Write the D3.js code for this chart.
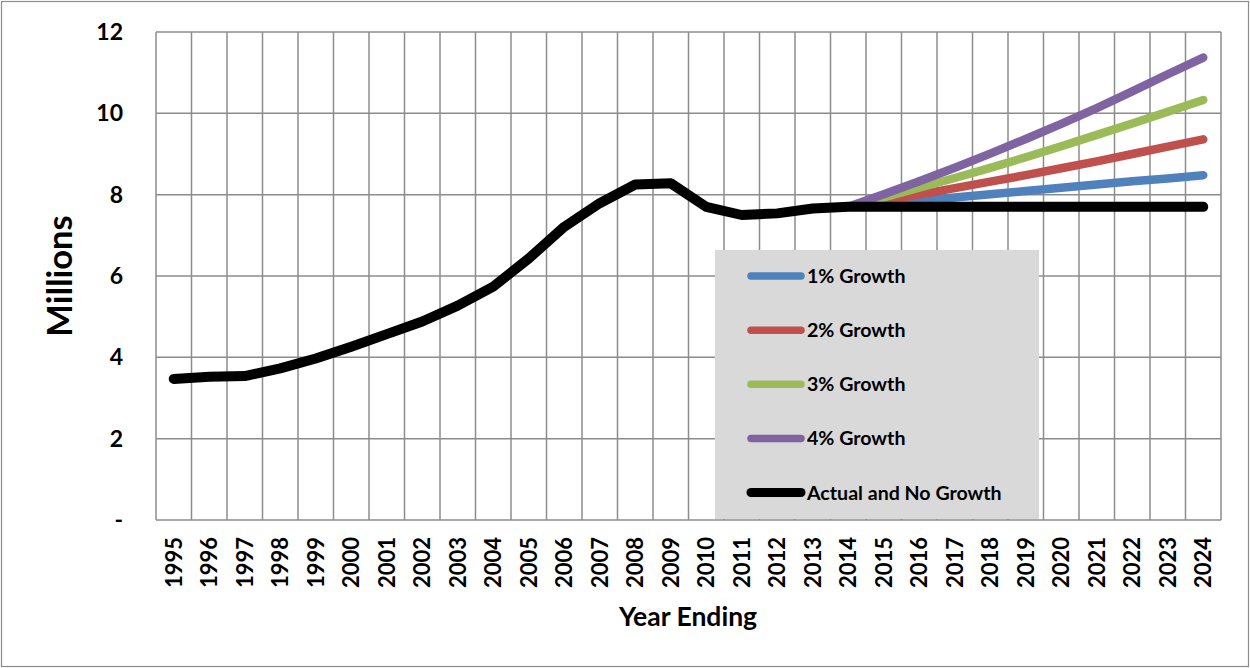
<!DOCTYPE html>
<html>
<head>
<meta charset="utf-8">
<script src="https://cdn.jsdelivr.net/npm/d3@7"></script>
<style>
  html, body { margin: 0; padding: 0; background: #fff; }
  svg { display: block; }
  text { font-family: Lato, "Open Sans", sans-serif; font-weight: 700; fill: #000; }
</style>
</head>
<body>
<svg id="chart" width="1250" height="668"></svg>
<script>
// Year ending categories
const years = ["1995","1996","1997","1998","1999","2000","2001","2002","2003","2004",
               "2005","2006","2007","2008","2009","2010","2011","2012","2013","2014",
               "2015","2016","2017","2018","2019","2020","2021","2022","2023","2024"];

// Actual figures to 2014, then held flat (millions)
const actualNoGrowth = [3.47, 3.52, 3.54, 3.73, 3.97, 4.26, 4.57, 4.88, 5.27, 5.74,
                        6.43, 7.21, 7.79, 8.25, 8.28, 7.70, 7.50, 7.54, 7.66, 7.70,
                        7.70, 7.70, 7.70, 7.70, 7.70, 7.70, 7.70, 7.70, 7.70, 7.70];

// Projection years and scenarios (millions)
const projYears = ["2014","2015","2016","2017","2018","2019","2020","2021","2022","2023","2024"];
const growth1 = [7.70, 7.77, 7.85, 7.93, 8.01, 8.09, 8.17, 8.25, 8.33, 8.40, 8.48];
const growth2 = [7.70, 7.85, 8.00, 8.16, 8.32, 8.48, 8.65, 8.82, 9.00, 9.18, 9.36];
const growth3 = [7.70, 7.93, 8.17, 8.41, 8.66, 8.92, 9.19, 9.47, 9.75, 10.04, 10.33];
const growth4 = [7.70, 8.01, 8.33, 8.66, 9.01, 9.37, 9.74, 10.13, 10.54, 10.96, 11.37];

const seriesNames = ["1% Growth", "2% Growth", "3% Growth", "4% Growth", "Actual and No Growth"];
const seriesColors = ["#4f81bd", "#c0504d", "#9bbb59", "#8064a2", "#000000"];

const yTicks = [0, 2, 4, 6, 8, 10, 12];

const svg = d3.select("#chart");
const W = 1250, H = 668;
const plot = { left: 156, right: 1221, top: 32, bottom: 520 };

// Outer chart border
svg.append("rect")
  .attr("x", 1.5).attr("y", 1.5)
  .attr("width", W - 3).attr("height", H - 3)
  .attr("fill", "#fff").attr("stroke", "#8c8c8c").attr("stroke-width", 1.2);

const x = d3.scaleBand().domain(years).range([plot.left, plot.right]).padding(0);
const y = d3.scaleLinear().domain([0, 12]).range([plot.bottom, plot.top]);

const grid = svg.append("g").attr("stroke", "#8c8c8c").attr("stroke-width", 1.5);
// Horizontal gridlines
grid.selectAll("line.h").data(yTicks).join("line")
  .attr("x1", plot.left).attr("x2", plot.right)
  .attr("y1", d => y(d)).attr("y2", d => y(d));
// Vertical gridlines at category boundaries
const bounds = years.map(d => x(d)).concat([x(years[years.length - 1]) + x.bandwidth()]);
grid.selectAll("line.v").data(bounds).join("line")
  .attr("x1", d => d).attr("x2", d => d)
  .attr("y1", plot.top).attr("y2", plot.bottom);

// Y axis labels
const yAxis = d3.axisLeft(y).tickValues(yTicks).tickSize(0).tickPadding(0)
  .tickFormat(d => d === 0 ? "-" : d);
const gy = svg.append("g").attr("transform", `translate(123,0)`).call(yAxis);
gy.select(".domain").remove();
gy.selectAll("text").attr("font-size", 23).attr("font-family", "Lato, sans-serif")
  .attr("font-weight", 700).attr("fill", "#000");

// X axis labels, rotated
const xAxis = d3.axisBottom(x).tickSize(0).tickPadding(0);
const gx = svg.append("g").attr("transform", `translate(0,${plot.bottom})`).call(xAxis);
gx.select(".domain").remove();
gx.selectAll("text")
  .attr("font-size", 22).attr("font-family", "Lato, sans-serif")
  .attr("font-weight", 700).attr("fill", "#000")
  .attr("text-anchor", "end")
  .attr("transform", "rotate(-90)")
  .attr("x", -17).attr("y", 0).attr("dy", "0.36em");

const cx = d => x(d) + x.bandwidth() / 2;
const line = d3.line().x(d => cx(d[0])).y(d => y(d[1]));

const projections = [growth1, growth2, growth3, growth4];
projections.forEach((vals, i) => {
  svg.append("path")
    .datum(projYears.map((yr, j) => [yr, vals[j]]))
    .attr("d", line)
    .attr("fill", "none")
    .attr("stroke", seriesColors[i])
    .attr("stroke-width", 8.5)
    .attr("stroke-linecap", "round")
    .attr("stroke-linejoin", "round");
});

svg.append("path")
  .datum(years.map((yr, j) => [yr, actualNoGrowth[j]]))
  .attr("d", line)
  .attr("fill", "none")
  .attr("stroke", seriesColors[4])
  .attr("stroke-width", 10)
  .attr("stroke-linecap", "round")
  .attr("stroke-linejoin", "round");

// Legend
const legend = svg.append("g");
legend.append("rect")
  .attr("x", 715).attr("y", 250).attr("width", 324).attr("height", 269)
  .attr("fill", "#d9d9d9");
const rowY = d3.scalePoint().domain(seriesNames).range([276, 492.5]);
seriesNames.forEach((name, i) => {
  const yy = rowY(name);
  legend.append("line")
    .attr("x1", 751).attr("x2", 801).attr("y1", yy).attr("y2", yy)
    .attr("stroke", seriesColors[i])
    .attr("stroke-width", i === 4 ? 9 : 7.5)
    .attr("stroke-linecap", "round");
  legend.append("text")
    .attr("x", 807).attr("y", yy).attr("dy", "0.36em")
    .attr("font-size", 19.6)
    .text(name);
});

// Axis titles
svg.append("text")
  .attr("transform", "translate(72,276) rotate(-90)")
  .attr("text-anchor", "middle")
  .attr("font-size", 34.5)
  .text("Millions");

svg.append("text")
  .attr("x", 688).attr("y", 626)
  .attr("text-anchor", "middle")
  .attr("font-size", 26.5)
  .text("Year Ending");
</script>
</body>
</html>
